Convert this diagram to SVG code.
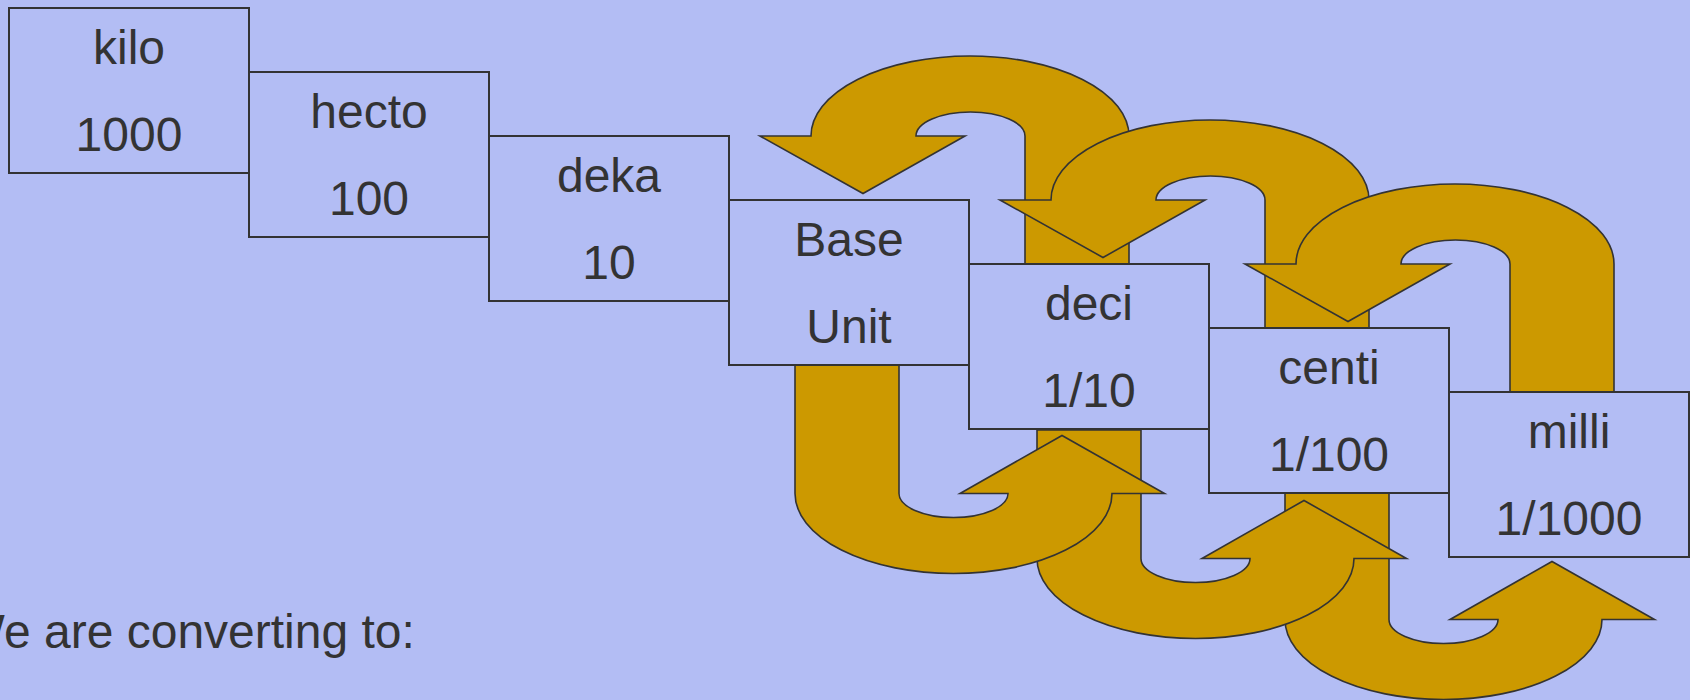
<svg xmlns="http://www.w3.org/2000/svg" xmlns:xlink="http://www.w3.org/1999/xlink" width="1690" height="700" viewBox="0 0 1690 700">
  <style>
    .unit rect { fill: #b3bdf4; stroke: #333333; stroke-width: 2; }
    .unit text, .caption { font-family: "Liberation Sans", Arial, sans-serif; font-size: 48px; fill: #333333; }
    .unit text { text-anchor: middle; }
    .turn { fill: #cc9900; stroke: #333333; stroke-width: 1.6; stroke-linejoin: miter; }
  </style>
  <defs>
    <!-- U-turn arrow arching over the top, head pointing down on the left -->
    <path id="turnDown" class="turn" d="M1129,264 V136 A159,80 0 0 0 811,136 H760 L863,193.5 L965,136 H916 A54.5,24 0 0 1 1025,136 V264 Z"/>
    <!-- U-turn arrow dipping underneath, head pointing up on the right -->
    <path id="turnUp" class="turn" d="M795,365 V493.5 A158.5,80 0 0 0 1112,493.5 H1164.5 L1062,435.5 L960,493.5 H1008 A54.5,24 0 0 1 899,493.5 V365 Z"/>
  </defs>

  <rect x="0" y="0" width="1690" height="700" fill="#b3bdf4"/>

  <g id="connectors">
    <!-- upward conversions: each smaller unit back to the next larger one -->
    <use xlink:href="#turnDown"/>
    <use xlink:href="#turnDown" transform="translate(240,64)"/>
    <use xlink:href="#turnDown" transform="translate(485,128)"/>
    <!-- downward conversions: each unit to the next smaller one -->
    <use xlink:href="#turnUp" transform="translate(490,126)"/>
    <use xlink:href="#turnUp" transform="translate(242,65)"/>
    <use xlink:href="#turnUp"/>
  </g>

  <g id="kilo" class="unit">
    <rect x="9" y="8" width="240" height="165"/>
    <text x="129" y="64">kilo</text>
    <text x="129" y="151">1000</text>
  </g>
  <g id="hecto" class="unit">
    <rect x="249" y="72" width="240" height="165"/>
    <text x="369" y="128">hecto</text>
    <text x="369" y="215">100</text>
  </g>
  <g id="deka" class="unit">
    <rect x="489" y="136" width="240" height="165"/>
    <text x="609" y="192">deka</text>
    <text x="609" y="279">10</text>
  </g>
  <g id="base-unit" class="unit">
    <rect x="729" y="200" width="240" height="165"/>
    <text x="849" y="256">Base</text>
    <text x="849" y="343">Unit</text>
  </g>
  <g id="deci" class="unit">
    <rect x="969" y="264" width="240" height="165"/>
    <text x="1089" y="320">deci</text>
    <text x="1089" y="407">1/10</text>
  </g>
  <g id="centi" class="unit">
    <rect x="1209" y="328" width="240" height="165"/>
    <text x="1329" y="384">centi</text>
    <text x="1329" y="471">1/100</text>
  </g>
  <g id="milli" class="unit">
    <rect x="1449" y="392" width="240" height="165"/>
    <text x="1569" y="448">milli</text>
    <text x="1569" y="535">1/1000</text>
  </g>

  <text class="caption" x="-40.5" y="648">We are converting to:</text>
</svg>
